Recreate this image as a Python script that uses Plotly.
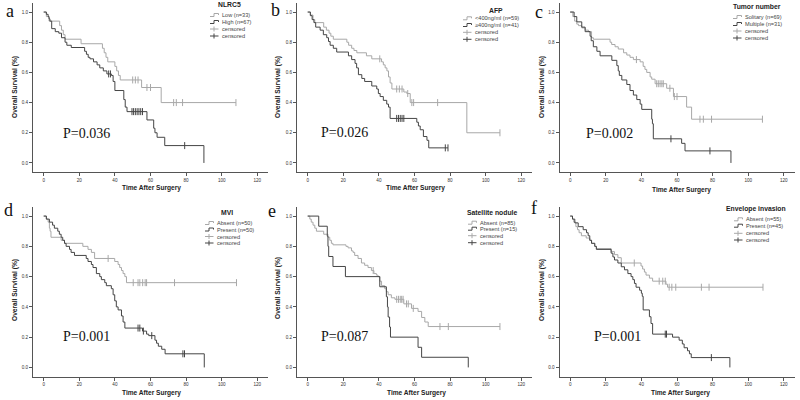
import numpy as np
import plotly.graph_objects as go

W, H = 800, 400

# ---------------- data ----------------
# Panel a : NLRC5
a_low_t = [0, 1.5, 3, 9, 10, 11, 12, 21, 33, 34, 35, 36, 40, 41, 42, 43, 55, 66, 108]
a_low_s = [1, .97, .94, .91, .88, .85, .82, .79, .76, .73, .70, .67, .64, .61, .58, .55, .50, .40, .40]
a_low_c = [50, 51.5, 53, 58, 60, 73, 74.5, 78, 108]
a_high_t = [0, 1.5, 2.5, 3, 3.5, 4.5, 6.5, 8.5, 10, 12, 13, 15.5, 23, 24, 25, 26, 28, 30, 31.5, 33.5,
            35.5, 38, 39, 40, 45, 45.8, 46.8, 58, 61.8, 62.5, 63.7, 68, 90]
a_high_s = [1, .985, .97, .955, .94, .89, .87, .86, .83, .80, .78, .765, .74, .72, .70, .69, .67, .65, .63, .61,
            .59, .58, .54, .48, .42, .37, .34, .285, .23, .20, .17, .115, 0]
a_high_c = [36.5, 37.5, 49.6, 50.5, 51.5, 52.5, 53.5, 54.5, 55.5, 79.2]

# Panel b : AFP
b_low_t = [0, 1.5, 3, 4, 9, 10.5, 12, 13, 14.4, 22, 23, 24.7, 26, 27.6, 33, 36, 41.5, 42.5, 43.5, 44.5,
           45.4, 46.3, 47.3, 54, 55.7, 57.6, 89.4, 108]
b_low_s = [1, .98, .95, .93, .90, .88, .86, .84, .82, .80, .78, .76, .745, .73, .71, .69, .67, .65, .63, .61,
           .57, .53, .49, .47, .46, .40, .20, .20]
b_low_c = [40.5, 50, 51.5, 53, 56.2, 58.5, 59.5, 73, 108]
b_high_t = [0, 1.5, 2.5, 3.5, 4.5, 7, 8.8, 10.7, 11.7, 12.6, 14.4, 16.3, 22.9, 24.7, 26.6, 27.5, 28.5, 30.4,
            32, 36, 38.8, 39.7, 40.7, 42.5, 44.4, 45.4, 46.3, 61.3, 62.2, 63.2, 65, 67, 68, 78.8]
b_high_s = [1, .976, .95, .93, .90, .88, .85, .83, .805, .78, .76, .735, .71, .685, .66, .63, .585, .56,
            .54, .51, .49, .46, .44, .415, .39, .37, .295, .27, .245, .22, .175, .15, .10, .10]
b_high_c = [50, 51, 52, 53, 54, 77.3, 78.8]

# Panel c : Tumor number
c_low_t = [0, 1.5, 2.5, 3.7, 4.7, 6.5, 8.4, 10.3, 12, 13, 22.4, 23.3, 25.2, 27, 30, 31.8, 33.6, 35.5, 39.3,
           41, 42, 43, 44.9, 45.8, 47.7, 54.2, 58, 65.4, 68.2, 108]
c_low_s = [1, .97, .94, .92, .91, .895, .88, .87, .83, .82, .80, .785, .77, .755, .73, .715, .70, .685, .67,
           .64, .62, .60, .57, .555, .525, .495, .44, .37, .29, .29]
c_low_c = [37.2, 48.6, 49.5, 50.5, 51.5, 52.3, 56, 58.5, 60, 72.9, 74.8, 79.4, 108]
c_high_t = [0, 2.2, 3.7, 6.5, 8.4, 11.2, 11.8, 13, 15, 16.8, 23.4, 26.2, 27, 27.6, 29, 31.8, 33.6, 35.5,
            37.4, 39.3, 40.2, 45.8, 46.2, 46.7, 62.6, 64.5, 90.3]
c_high_s = [1, .97, .935, .90, .87, .84, .81, .77, .74, .71, .68, .645, .61, .58, .55, .52, .48, .45,
            .42, .39, .355, .29, .26, .16, .13, .08, 0]
c_high_c = [56.6, 78.5]

# Panel d : MVI
d_low_t = [0, 1.5, 2.5, 3.2, 3.6, 4.1, 9.8, 11.7, 22, 24.9, 26.8, 28.6, 39.9, 41.8, 42.7, 43.7, 44.6, 45.6,
           46.5, 108.3]
d_low_s = [1, .98, .96, .92, .90, .86, .84, .82, .80, .78, .76, .72, .70, .68, .66, .64, .62, .60,
           .56, .56]
d_low_c = [36.2, 50.3, 53, 54, 55.6, 57, 57.8, 73.5, 108.3]
d_high_t = [0, 1.5, 3.2, 5, 6, 7.9, 8.8, 9.8, 10.7, 11.7, 12.6, 14.5, 15.4, 17.3, 23.9, 24.9, 26.8, 27.7,
            29.6, 31.5, 32.4, 34.3, 35.2, 38, 39, 39.9, 40.8, 41.8, 43.7, 44.6, 45.6, 55.5, 57.8, 59,
            62.5, 63.4, 64.4, 66.3, 68.2, 90.2]
d_high_s = [1, .98, .96, .94, .92, .90, .88, .86, .84, .82, .80, .78, .76, .74, .72, .70, .68, .66,
            .62, .60, .58, .56, .54, .52, .48, .44, .40, .38, .34, .30, .26, .24, .22, .21,
            .18, .16, .14, .12, .09, 0]
d_high_c = [53, 54, 56, 60.7, 78.2, 79.1]

# Panel e : Satellite nodule
e_low_t = [0, 1.2, 2, 3, 4, 4.9, 9, 11.4, 12.4, 13.3, 14.2, 21.5, 22.7, 24.6, 25.5, 26.4, 28.3, 30.2, 32,
           33.9, 35.8, 37.2, 38.6, 39.5, 40.5, 41.5, 43.3, 44.2, 45.2, 47, 49, 54, 58.3, 62, 64, 65.8,
           67.7, 108]
e_low_s = [1, .98, .96, .94, .92, .90, .88, .86, .84, .82, .81, .80, .79, .77, .76, .74, .72, .69, .675,
           .66, .64, .62, .61, .60, .57, .54, .52, .50, .48, .46, .45, .42, .39, .37, .33, .30,
           .27, .27]
e_low_c = [36.8, 50, 51, 52, 52.8, 53.6, 55.5, 56.5, 59.3, 74.3, 79, 108]
e_high_t = [0, 6.2, 11, 11.4, 11.8, 14.2, 21.2, 40.5, 44.2, 44.8, 45.2, 46, 46.5, 62, 64, 90.2]
e_high_s = [1, .933, .867, .80, .733, .667, .60, .533, .467, .40, .333, .267, .20, .133, .067, 0]
e_high_c = []

# Panel f : Envelope invasion
f_low_t = [0, 1.3, 2, 3.2, 4.1, 5, 6.3, 9, 11, 12, 13.8, 14.7, 23, 24.9, 26.8, 28.7, 39.8, 40.7, 41.7,
           42.6, 44.5, 46.3, 53.8, 54.7, 108.3]
f_low_s = [1, .98, .96, .93, .91, .89, .87, .855, .84, .82, .80, .785, .765, .745, .725, .69, .67, .65, .63,
           .61, .59, .57, .55, .53, .53]
f_low_c = [36, 50, 52, 53.4, 55.6, 57.1, 59.3, 73.7, 78, 108.3]
f_high_t = [0, 1.3, 2.6, 4.5, 7.3, 9.2, 10.1, 11, 12, 13.8, 14.7, 23, 24, 24.9, 26.8, 28.7, 30.5, 32.4,
            34.2, 35.2, 36.1, 37, 39, 40, 40.5, 41, 44.5, 45.4, 46.3, 57.5, 61.2, 63, 64, 65.9, 67, 68,
            89.7]
f_high_s = [1, .98, .955, .93, .91, .89, .87, .84, .82, .80, .78, .755, .73, .71, .69, .665, .645, .62,
            .60, .58, .555, .53, .51, .49, .47, .38, .335, .29, .22, .20, .18, .155, .13, .11, .09, .065,
            0]
f_high_c = [53.4, 54.1, 79.3]

legend_titles = ["NLRC5", "AFP", "Tumor number", "MVI", "Satellite nodule", "Envelope invasion"]
group_labels = [
    ["Low (n=33)", "High (n=67)"],
    ["<400ng/ml (n=59)", "\u2265400ng/ml (n=41)"],
    ["Solitary (n=69)", "Multiple (n=31)"],
    ["Absent (n=50)", "Present (n=50)"],
    ["Absent (n=85)", "Present (n=15)"],
    ["Absent (n=55)", "Present (n=45)"],
]
p_values = ["P=0.036", "P=0.026", "P=0.002", "P=0.001", "P=0.087", "P=0.001"]
panel_letters = ["a", "b", "c", "d", "e", "f"]
x_ticks = [0, 20, 40, 60, 80, 100, 120]
y_ticks = [0.0, 0.2, 0.4, 0.6, 0.8, 1.0]

curves = [
    ((a_low_t, a_low_s, a_low_c), (a_high_t, a_high_s, a_high_c)),
    ((b_low_t, b_low_s, b_low_c), (b_high_t, b_high_s, b_high_c)),
    ((c_low_t, c_low_s, c_low_c), (c_high_t, c_high_s, c_high_c)),
    ((d_low_t, d_low_s, d_low_c), (d_high_t, d_high_s, d_high_c)),
    ((e_low_t, e_low_s, e_low_c), (e_high_t, e_high_s, e_high_c)),
    ((f_low_t, f_low_s, f_low_c), (f_high_t, f_high_s, f_high_c)),
]

# ---------------- styling / layout constants ----------------
LIGHT = "#a8a8a8"
DARK = "#454545"
AXC = "#555555"
SANS = "Liberation Sans"
SERIF = "Liberation Serif"

col_px = [(33, 268), (297, 532), (559.5, 794.5)]
row_px = [(3, 172), (207, 376.5)]

# text placement in pixels
letter_pos = [(10, 11), (275, 9.5), (539, 12), (8, 210), (272, 211), (534, 208)]
p_pos = [(86, 133.3), (344, 132.7), (609, 133.3), (86, 336.7), (344, 336), (617, 336)]
ytitle_pos = [(15, 87), (278, 87), (542, 87), (15, 290), (278, 288), (542, 290)]
xtitle_pos = [(151, 188.5), (415, 188.5), (681, 190), (151, 392.5), (416, 392.5), (680, 392.5)]
ltitle_pos = [(230, 5), (496, 10), (757, 6), (227, 212), (492, 212), (756, 209.3)]
litem_x = [220, 473, 743, 215, 478, 744]
litem_y = [[15, 22, 29, 36], [18.3, 25, 32.3, 39.3], [17, 24, 31, 38],
           [223, 229.5, 236.5, 243], [222.7, 228.7, 235.7, 242.7], [219.3, 225.7, 233.3, 240]]


def px2x(px):
    return px / W


def py2y(py):
    return 1 - py / H


fig = go.Figure()
layout = dict(width=W, height=H, margin=dict(l=0, r=0, t=0, b=0), autosize=False,
              paper_bgcolor="white", plot_bgcolor="white", showlegend=False)
annotations = []
shapes = []

for i in range(6):
    r, c = divmod(i, 3)
    xs = "x" if i == 0 else f"x{i+1}"
    ys = "y" if i == 0 else f"y{i+1}"
    xk = "xaxis" if i == 0 else f"xaxis{i+1}"
    yk = "yaxis" if i == 0 else f"yaxis{i+1}"
    x0, x1 = col_px[c]
    y0, y1 = row_px[r]
    axis_common = dict(showline=True, linecolor=AXC, linewidth=1, ticks="outside", ticklen=3,
                       tickwidth=1, tickcolor=AXC, showgrid=False, zeroline=False,
                       tickfont=dict(family=SANS, size=4.6, color="#333"), fixedrange=True)
    layout[xk] = dict(domain=[px2x(x0), px2x(x1)], range=[-6, 126], tickvals=x_ticks,
                      anchor=ys, **axis_common)
    layout[yk] = dict(domain=[py2y(y1), py2y(y0)], range=[-0.06, 1.06], tickvals=y_ticks,
                      tickformat=".1f", anchor=xs, **axis_common)

    for (t, s, cen), col in zip(curves[i], [LIGHT, DARK]):
        fig.add_trace(go.Scatter(x=t, y=s, mode="lines", xaxis=xs, yaxis=ys,
                                 line=dict(shape="hv", color=col, width=1), hoverinfo="skip"))
        if len(cen):
            ta = np.array(t, dtype=float)
            sa = np.array(s, dtype=float)
            idx = np.searchsorted(ta, np.array(cen, dtype=float), side="right") - 1
            fig.add_trace(go.Scatter(x=cen, y=sa[idx].tolist(), mode="markers", xaxis=xs, yaxis=ys,
                                     marker=dict(symbol="line-ns-open", size=5, color=col,
                                                 line=dict(color=col, width=1)),
                                     hoverinfo="skip"))

    # panel letter
    lx, ly = letter_pos[i]
    annotations.append(dict(x=px2x(lx), y=py2y(ly), xref="paper", yref="paper", text=panel_letters[i],
                            showarrow=False, xanchor="center", yanchor="middle",
                            font=dict(family=SERIF, size=18, color="#111")))
    # p value
    px_, py_ = p_pos[i]
    annotations.append(dict(x=px2x(px_), y=py2y(py_), xref="paper", yref="paper", text=p_values[i],
                            showarrow=False, xanchor="center", yanchor="middle",
                            font=dict(family=SERIF, size=14, color="#111")))
    # axis titles
    tx, ty = ytitle_pos[i]
    annotations.append(dict(x=px2x(tx), y=py2y(ty), xref="paper", yref="paper",
                            text="<b>Overall Survival (%)</b>", textangle=-90, showarrow=False,
                            xanchor="center", yanchor="middle",
                            font=dict(family=SANS, size=6.6, color="#222")))
    tx, ty = xtitle_pos[i]
    annotations.append(dict(x=px2x(tx), y=py2y(ty), xref="paper", yref="paper",
                            text="<b>Time After Surgery</b>", showarrow=False,
                            xanchor="center", yanchor="middle",
                            font=dict(family=SANS, size=6.6, color="#222")))
    # legend
    tx, ty = ltitle_pos[i]
    annotations.append(dict(x=px2x(tx), y=py2y(ty), xref="paper", yref="paper",
                            text=f"<b>{legend_titles[i]}</b>", showarrow=False,
                            xanchor="center", yanchor="middle",
                            font=dict(family=SANS, size=6.8, color="#222")))
    labels = group_labels[i] + ["censored", "censored"]
    lcols = [LIGHT, DARK, LIGHT, DARK]
    for k in range(4):
        yy = litem_y[i][k]
        annotations.append(dict(x=px2x(litem_x[i]), y=py2y(yy), xref="paper", yref="paper",
                                text=labels[k], showarrow=False, xanchor="left", yanchor="middle",
                                font=dict(family=SANS, size=5.6, color="#444")))
        ix0 = litem_x[i] - 10
        if k < 2:
            pts = [(ix0, yy + 1.5), (ix0 + 4, yy + 1.5), (ix0 + 4, yy - 1.5), (ix0 + 8.5, yy - 1.5),
                   (ix0 + 8.5, yy)]
            path = "M " + " L ".join(f"{px2x(a):.5f},{py2y(b):.5f}" for a, b in pts)
            shapes.append(dict(type="path", path=path, xref="paper", yref="paper",
                               line=dict(color=lcols[k], width=1)))
        else:
            shapes.append(dict(type="line", xref="paper", yref="paper",
                               x0=px2x(ix0), x1=px2x(ix0 + 8.5), y0=py2y(yy), y1=py2y(yy),
                               line=dict(color=lcols[k], width=1)))
            shapes.append(dict(type="line", xref="paper", yref="paper",
                               x0=px2x(ix0 + 4), x1=px2x(ix0 + 4), y0=py2y(yy - 2.5), y1=py2y(yy + 2.5),
                               line=dict(color=lcols[k], width=1)))

layout["annotations"] = annotations
layout["shapes"] = shapes
fig.update_layout(**layout)
fig.write_html("out.html")
